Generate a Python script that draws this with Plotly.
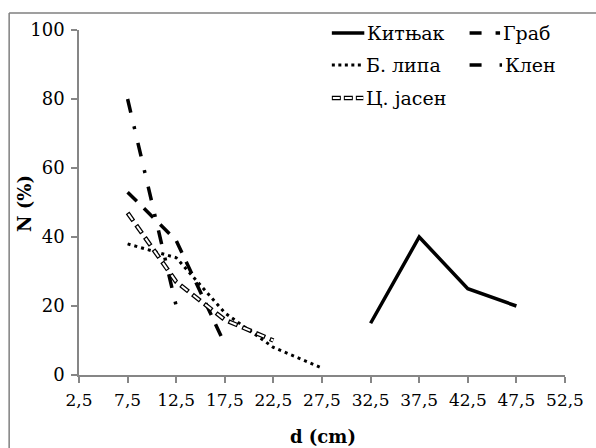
import plotly.graph_objects as go

# ---- data ----
x_kitnjak = [32.5, 37.5, 42.5, 47.5]
y_kitnjak = [15, 40, 25, 20]
x_grab = [7.5, 12.5, 17.5]
y_grab = [53, 39, 9]
x_lipa = [7.5, 12.5, 17.5, 22.5, 27.5]
y_lipa = [38, 34, 18, 8, 2]
x_klen = [7.5, 12.5]
y_klen = [80, 20]
x_jasen = [7.5, 12.5, 17.5, 22.5]
y_jasen = [47, 27, 16, 10]
x_ticks = [2.5, 7.5, 12.5, 17.5, 22.5, 27.5, 32.5, 37.5, 42.5, 47.5, 52.5]
y_ticks = [0, 20, 40, 60, 80, 100]
names = ["Китњак", "Граб", "Б. липа", "Клен", "Ц. јасен"]

FONT = "DejaVu Serif"
AX = "#868686"
W, H = 596, 448
ML, MR, MT, MB = 79, 23, 30, 73
PW, PH = W - ML - MR, H - MT - MB


def px(xp):
    return (xp - ML) / PW


def py(yp):
    return (H - MB - yp) / PH


fig = go.Figure()
fig.add_trace(go.Scatter(x=x_kitnjak, y=y_kitnjak, mode="lines", name=names[0],
                         line=dict(color="black", width=3.5)))
fig.add_trace(go.Scatter(x=x_grab, y=y_grab, mode="lines", name=names[1],
                         line=dict(color="black", width=3.5, dash="13px,10px")))
fig.add_trace(go.Scatter(x=x_lipa, y=y_lipa, mode="lines", name=names[2],
                         line=dict(color="black", width=3, dash="3px,4px")))
fig.add_trace(go.Scatter(x=x_klen, y=y_klen, mode="lines", name=names[3],
                         line=dict(color="black", width=3.5, dash="14px,14px,3px,14px")))
fig.add_trace(go.Scatter(x=x_jasen, y=y_jasen, mode="lines", name=names[4],
                         line=dict(color="black", width=4.5, dash="10px,5px")))
fig.add_trace(go.Scatter(x=x_jasen, y=y_jasen, mode="lines", name=names[4],
                         line=dict(color="white", width=2, dash="0px,1.25px,7.5px,6.25px")))

shapes = []
annotations = []
shapes.append(dict(type="line", xref="paper", yref="paper", x0=px(8), x1=px(8), y0=py(13), y1=py(470),
                   line=dict(color="#7f7f7f", width=1.5)))
shapes.append(dict(type="line", xref="paper", yref="paper", x0=px(8), x1=px(620), y0=py(13), y1=py(13),
                   line=dict(color="#7f7f7f", width=1.5)))

rows = [33, 65, 98]
leg = [
    (336, 369, rows[0], dict(color="black", width=3.5), names[0]),
    (476, 507, rows[0], dict(color="black", width=3.5, dash="12px,14px"), names[1]),
    (336, 368, rows[1], dict(color="black", width=3, dash="3px,3.5px"), names[2]),
    (476, 509, rows[1], dict(color="black", width=3.5, dash="12px,18px,3px,20px"), names[3]),
    (336, 368, rows[2], dict(color="black", width=4.5, dash="9px,3px"), names[4]),
]
for x0, x1, yy, ln, nm in leg:
    shapes.append(dict(type="line", xref="paper", yref="paper", x0=px(x0), x1=px(x1),
                       y0=py(yy), y1=py(yy), line=ln))
    annotations.append(dict(xref="paper", yref="paper", x=px(x1 + 1), y=py(yy), text=nm,
                            showarrow=False, xanchor="left", yanchor="middle",
                            font=dict(family=FONT, size=19, color="black")))
shapes.append(dict(type="line", xref="paper", yref="paper", x0=px(336), x1=px(368),
                   y0=py(98), y1=py(98),
                   line=dict(color="white", width=2, dash="0px,1px,7px,4px")))

annotations.append(dict(xref="paper", yref="paper", x=px(24), y=py(203), text="<b>N (%)</b>",
                        textangle=-90, showarrow=False, xanchor="center", yanchor="middle",
                        font=dict(family=FONT, size=18, color="black")))
annotations.append(dict(xref="paper", yref="paper", x=px(327), y=py(436), text="<b>d (cm)</b>",
                        showarrow=False, xanchor="center", yanchor="middle",
                        font=dict(family=FONT, size=18, color="black")))

fig.update_layout(
    width=W, height=H,
    margin=dict(l=ML, r=MR, t=MT, b=MB),
    paper_bgcolor="white", plot_bgcolor="white",
    showlegend=False,
    separators=",.",
    font=dict(family=FONT, size=19, color="black"),
    shapes=shapes, annotations=annotations,
    xaxis=dict(range=[2.5, 52.5], tickvals=x_ticks, tickformat=".1f",
               showline=True, linecolor=AX, linewidth=1.5, ticks="outside", ticklen=6,
               tickcolor=AX, tickwidth=1.5, showgrid=False, zeroline=False,
               ticklabelstandoff=3,
               tickfont=dict(family=FONT, size=17, color="black")),
    yaxis=dict(range=[0, 100], tickvals=y_ticks,
               showline=True, linecolor=AX, linewidth=1.5, ticks="outside", ticklen=6,
               tickcolor=AX, tickwidth=1.5, showgrid=False, zeroline=False,
               ticklabelstandoff=3,
               tickfont=dict(family=FONT, size=18, color="black")),
)
fig.write_html("out.html")
